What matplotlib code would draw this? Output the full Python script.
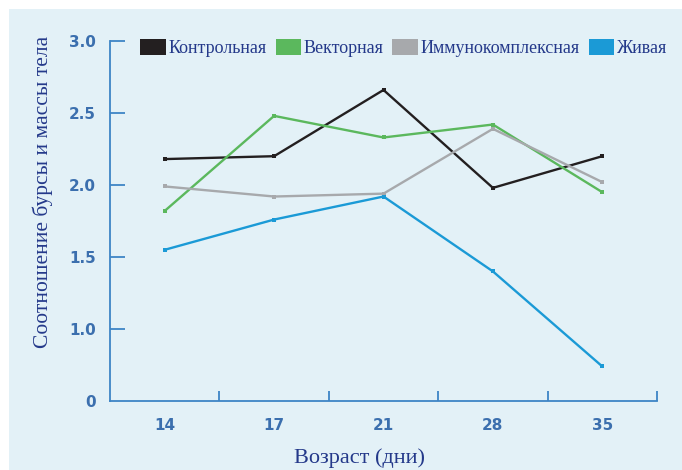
import numpy as np
import matplotlib
matplotlib.use("Agg")
import matplotlib.pyplot as plt
from matplotlib.patches import Rectangle, Patch

# ── data ────────────────────────────────────────────────────────────────────
ages = ["14", "17", "21", "28", "35"]
control = [2.18, 2.20, 2.66, 1.98, 2.20]
vector = [1.82, 2.48, 2.33, 2.42, 1.95]
immuno = [1.99, 1.92, 1.94, 2.39, 2.02]
live = [1.55, 1.76, 1.92, 1.40, 0.74]

series_names = ["Контрольная", "Векторная", "Иммунокомплексная", "Живая"]
y_ticks = [0.5, 1.0, 1.5, 2.0, 2.5, 3.0]
y_tick_labels = ["0", "1.0", "1.5", "2.0", "2.5", "3.0"]

COLORS = ["#231f20", "#5bb85d", "#a7a9ac", "#1b9ad6"]
BG = "#e3f1f7"
SPINE = "#3d85c6"
TICKTXT = "#3b6fae"
LABELTXT = "#24398a"

# ── figure ──────────────────────────────────────────────────────────────────
fig = plt.figure(figsize=(6.82, 4.70), dpi=100, facecolor="white")
fig.patches.append(Rectangle((9 / 682, 0), 1, 461 / 470, transform=fig.transFigure,
                             facecolor=BG, edgecolor="none", zorder=-10))
ax = fig.add_axes([110 / 682, 69 / 470, 547 / 682, 360 / 470])
ax.set_facecolor("none")

x = np.arange(len(ages))
for vals, color in zip([control, vector, immuno, live], COLORS):
    ax.plot(x, vals, color=color, linewidth=1.7, marker="s", markersize=3.4,
            markeredgewidth=0, solid_joinstyle="miter")

ax.set_xlim(-0.5, len(ages) - 0.5)
ax.set_ylim(0.5, 3.0)

for side in ["top", "right"]:
    ax.spines[side].set_visible(False)
for side in ["left", "bottom"]:
    ax.spines[side].set_color(SPINE)
    ax.spines[side].set_linewidth(1.3)

tick_font = dict(family="Liberation Sans Narrow", weight="bold", size=11)

ax.set_yticks(y_ticks)
ax.set_yticklabels(y_tick_labels, color=TICKTXT, **tick_font)
ax.tick_params(axis="y", direction="in", length=11, width=1.3, color=SPINE, pad=10)
ax.yaxis.get_major_ticks()[0].tick1line.set_visible(False)

ax.set_xticks(x)
ax.set_xticklabels(ages, color=TICKTXT, **tick_font)
ax.set_xticks(np.arange(len(ages)) + 0.5, minor=True)
ax.tick_params(axis="x", which="major", length=0, pad=12)
ax.tick_params(axis="x", which="minor", direction="in", length=7, width=1.3, color=SPINE)

serif = "Liberation Serif"
ax.set_xlabel("Возраст (дни)", family=serif, size=16, color=LABELTXT)
ax.xaxis.set_label_coords(0.457, -0.13)
ax.set_ylabel("Соотношение бурсы и массы тела", family=serif, size=15.5,
              color=LABELTXT)
ax.yaxis.set_label_coords(-0.105, 0.58)

handles = [Patch(facecolor=c, edgecolor="none") for c in COLORS]
leg = ax.legend(handles, series_names, loc="upper left", ncol=4, frameon=False,
                bbox_to_anchor=(0.026, 1.05), handlelength=1.4, handleheight=0.95,
                handletextpad=0.15, columnspacing=0.5,
                prop=dict(family=serif, size=13))
for t in leg.get_texts():
    t.set_color(LABELTXT)

fig.savefig("out.png", dpi=100, facecolor=fig.get_facecolor())
